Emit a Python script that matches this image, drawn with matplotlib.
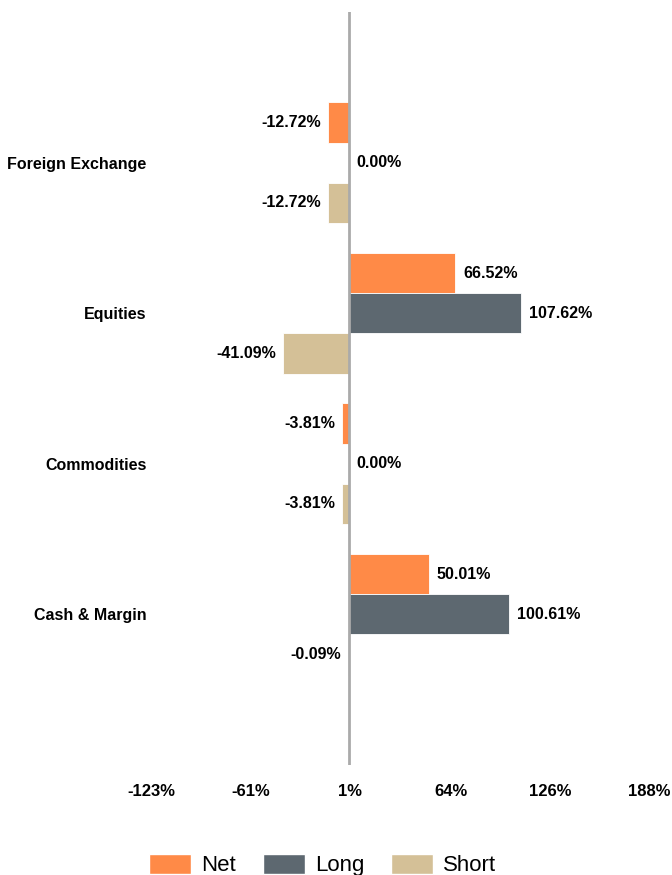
import matplotlib
matplotlib.use("Agg")
import matplotlib.pyplot as plt
import numpy as np
from matplotlib.patches import Patch

plt.rcParams['font.family'] = ['Liberation Sans', 'DejaVu Sans']

categories = ["Foreign Exchange", "Equities", "Commodities", "Cash & Margin"]
net = [-12.72, 66.52, -3.81, 50.01]
long_ = [0.00, 107.62, 0.00, 100.61]
short = [-12.72, -41.09, -3.81, -0.09]
series_names = ["Net", "Long", "Short"]
colors = ["#FF8A47", "#5D6870", "#D4C097"]
xticks = [-123, -61, 1, 64, 126, 188]
xtick_labels = ["-123%", "-61%", "1%", "64%", "126%", "188%"]

fig = plt.figure(figsize=(6.72, 8.75), dpi=100)
ax = fig.add_axes([0.226, 0.126, 0.74, 0.86])

y = np.arange(len(categories))
h = 0.267
offsets = [-h, 0, h]
for vals, off, col in zip([net, long_, short], offsets, colors):
    bars = ax.barh(y + off, vals, height=h, color=col, edgecolor='white', linewidth=0.6)
    for b, v in zip(bars, vals):
        yc = b.get_y() + b.get_height() / 2
        if v >= 0:
            ax.annotate(f"{v:.2f}%", xy=(v, yc), xytext=(8, 0), textcoords='offset pixels',
                        ha='left', va='center', fontsize=11.5, fontweight='bold', color='black')
        else:
            ax.annotate(f"{v:.2f}%", xy=(v, yc), xytext=(-7, 0), textcoords='offset pixels',
                        ha='right', va='center', fontsize=11.5, fontweight='bold', color='black')

ax.axvline(0, color='#AAAAAA', linewidth=2, zorder=3)
ax.set_xlim(-123, 188)
ax.set_ylim(4, -1)
ax.set_yticks(y)
ax.set_yticklabels(categories, fontsize=11.5, fontweight='bold')
ax.set_xticks(xticks)
ax.set_xticklabels(xtick_labels, fontsize=12, fontweight='bold')
ax.tick_params(axis='both', length=0)
ax.tick_params(axis='x', pad=14)
ax.tick_params(axis='y', pad=4)
for s in ax.spines.values():
    s.set_visible(False)

handles = [Patch(facecolor=c, edgecolor='white', label=n) for c, n in zip(colors, series_names)]
fig.legend(handles=handles, loc='lower center', bbox_to_anchor=(0.48, -0.022), ncol=3, frameon=False,
           fontsize=16, handlelength=1.9, handleheight=1.0, columnspacing=1.2, handletextpad=0.45,
           borderpad=0.3)

fig.savefig("out.png", dpi=100)
